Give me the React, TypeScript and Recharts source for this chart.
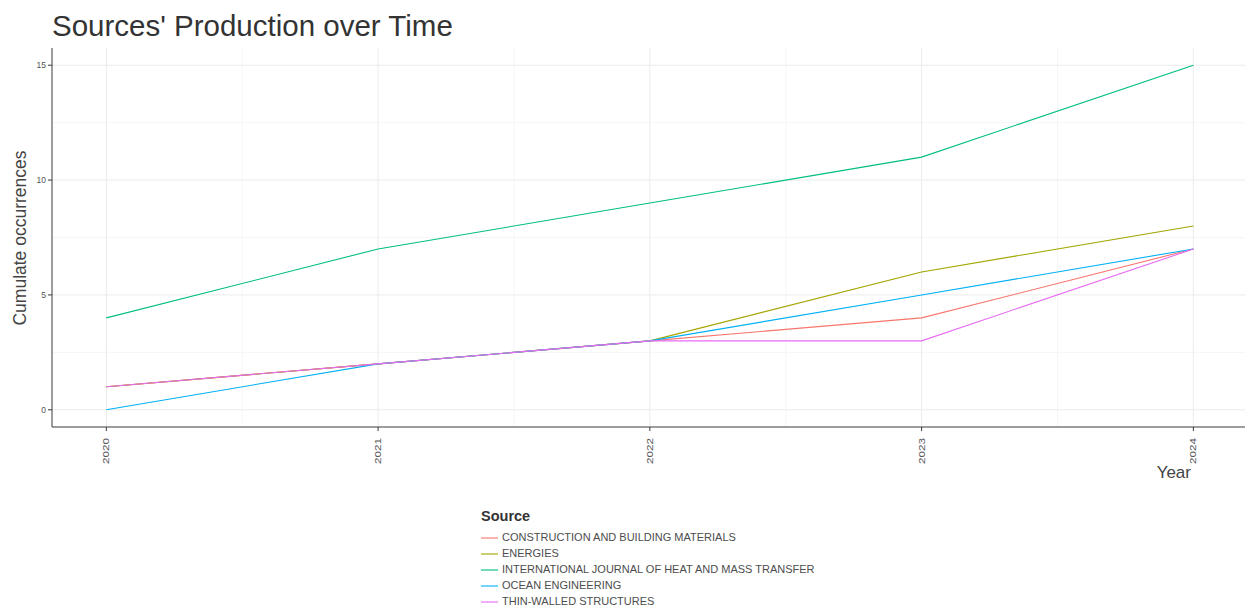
import React from 'react';
import { LineChart, Line, XAxis, YAxis, ReferenceLine } from 'recharts';

const years = [2020, 2021, 2022, 2023, 2024];
const construction = [1, 2, 3, 4, 7];
const energies = [1, 2, 3, 6, 8];
const heatMass = [4, 7, 9, 11, 15];
const ocean = [0, 2, 3, 5, 7];
const thinWalled = [1, 2, 3, 3, 7];

const yTicks = [0, 5, 10, 15];
const yMinor = [2.5, 7.5, 12.5];
const xMinor = [2020.5, 2021.5, 2022.5, 2023.5];

const series = [
  { key: 'construction', name: 'CONSTRUCTION AND BUILDING MATERIALS', color: '#F8766D', values: construction },
  { key: 'energies', name: 'ENERGIES', color: '#A3A500', values: energies },
  { key: 'heatMass', name: 'INTERNATIONAL JOURNAL OF HEAT AND MASS TRANSFER', color: '#00BF7D', values: heatMass },
  { key: 'ocean', name: 'OCEAN ENGINEERING', color: '#00B0F6', values: ocean },
  { key: 'thinWalled', name: 'THIN-WALLED STRUCTURES', color: '#E76BF3', values: thinWalled },
];

const data = years.map((year, i) => {
  const row: Record<string, number> = { year };
  series.forEach(s => { row[s.key] = s.values[i]; });
  return row;
});

const T = {
  sans: "'Liberation Sans', Arial, sans-serif",
  ink: '#333333',
  tick: '#555555',
  axis: '#3a3a3a',
  grid: '#EBEBEB',
  gridMinor: '#F6F6F6',
};

// rotated year labels, stretched a little like the original export
const XTick = ({ x, y, payload }: any) => (
  <text x={x} y={y + 5} transform={`rotate(-90, ${x}, ${y + 5})`} textAnchor="end"
    dominantBaseline="central" fontFamily={T.sans} fontSize={8.5} fill={T.tick}
    textLength={26} lengthAdjust="spacingAndGlyphs">
    {payload.value}
  </text>
);

export default function App() {
  return (
    <div style={{ position: 'absolute', left: 0, top: 0, width: 1250, height: 609, background: '#fff', fontFamily: T.sans }}>
      <div style={{ position: 'absolute', left: 52, top: 11, fontSize: 29.5, lineHeight: 1, color: T.ink, whiteSpace: 'nowrap' }}>
        Sources' Production over Time
      </div>
      <div style={{ position: 'absolute', left: 21, top: 238, width: 0, height: 0 }}>
        <div style={{ position: 'absolute', transform: 'translate(-50%, -50%) rotate(-90deg)', fontSize: 17.5,
          color: '#444', whiteSpace: 'nowrap', lineHeight: 1 }}>
          Cumulate occurrences
        </div>
      </div>
      <div style={{ position: 'absolute', right: 59, top: 464, fontSize: 17, lineHeight: 1, color: '#444' }}>Year</div>

      <LineChart width={1250} height={609} data={data}
        margin={{ top: 48, right: 5, left: 12, bottom: 132 }}>
        {yMinor.map(v => <ReferenceLine key={'ym' + v} y={v} stroke={T.gridMinor} strokeWidth={1} />)}
        {xMinor.map(v => <ReferenceLine key={'xm' + v} x={v} stroke={T.gridMinor} strokeWidth={1} />)}
        {yTicks.map(v => <ReferenceLine key={'y' + v} y={v} stroke={T.grid} strokeWidth={1} />)}
        {years.map(v => <ReferenceLine key={'x' + v} x={v} stroke={T.grid} strokeWidth={1} />)}
        <XAxis dataKey="year" type="number" domain={[2019.8, 2024.19]} ticks={years} allowDataOverflow
          height={50} tick={<XTick />} tickSize={4} axisLine={{ stroke: T.axis }} tickLine={{ stroke: T.axis }} />
        <YAxis type="number" domain={[-0.75, 15.75]} ticks={yTicks} allowDataOverflow width={40}
          tickSize={4} axisLine={{ stroke: T.axis }} tickLine={{ stroke: T.axis }}
          tick={{ fontFamily: T.sans, fontSize: 8.5, fill: T.tick }} />
        {series.map(s => (
          <Line key={s.key} dataKey={s.key} name={s.name} type="linear" stroke={s.color}
            strokeWidth={1.1} dot={false} isAnimationActive={false} />
        ))}
      </LineChart>

      <div style={{ position: 'absolute', left: 481, top: 509 }}>
        <div style={{ fontSize: 14.5, fontWeight: 700, color: T.ink, lineHeight: 1, marginBottom: 6 }}>Source</div>
        {series.map(s => (
          <div key={s.key} style={{ display: 'flex', alignItems: 'center', height: 16 }}>
            <svg width={17} height={16} style={{ display: 'block' }}>
              <line x1={0} x2={17} y1={8} y2={8} stroke={s.color} strokeWidth={1.1} />
            </svg>
            <span style={{ marginLeft: 4, fontSize: 11, color: '#4d4d4d', lineHeight: 1, whiteSpace: 'nowrap' }}>{s.name}</span>
          </div>
        ))}
      </div>
    </div>
  );
}
